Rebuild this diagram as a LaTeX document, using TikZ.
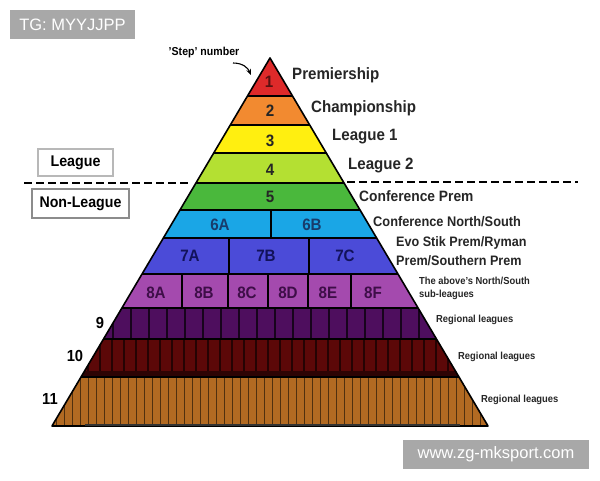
\documentclass[tikz,border=0pt]{standalone}
\usepackage{fontspec}
\setmainfont{Liberation Sans}
\usetikzlibrary{arrows.meta}
\newcommand{\nar}[1]{\scalebox{0.92}[1]{#1}}
\newcommand{\pyrpoly}[2]{({270-0.5924*(#1-58)},#1) -- ({270+0.5924*(#1-58)},#1) -- ({270+0.5924*(#2-58)},#2) -- ({270-0.5924*(#2-58)},#2) -- cycle}
\definecolor{cA}{HTML}{DE2A2A}
\definecolor{cB}{HTML}{F28A30}
\definecolor{cC}{HTML}{FFEF10}
\definecolor{cD}{HTML}{B4E032}
\definecolor{cE}{HTML}{4AB83C}
\definecolor{cF}{HTML}{1AA6E6}
\definecolor{cG}{HTML}{4B4BD8}
\definecolor{cH}{HTML}{A44AAE}
\definecolor{cI}{HTML}{4E0E5E}
\definecolor{cJ}{HTML}{5C0808}
\definecolor{cK}{HTML}{B26A22}
\definecolor{numtxt}{HTML}{262626}
\definecolor{numsix}{HTML}{183C6C}
\definecolor{numseven}{HTML}{12125A}
\definecolor{numeight}{HTML}{3E0E48}
\definecolor{wmgray}{HTML}{A8A8A8}
\begin{document}
\begin{tikzpicture}[x=1pt,y=-1pt,
  num/.style={font=\fontsize{16.5}{18}\selectfont\bfseries, text=numtxt, inner sep=0pt},
  side/.style={anchor=west, inner sep=0pt, text=black!85},
  bigl/.style={side, font=\fontsize{16.4}{19}\selectfont\bfseries},
  smll/.style={side, font=\fontsize{10.2}{14}\selectfont\bfseries},
  stepnum/.style={font=\fontsize{16}{18}\selectfont\bfseries, inner sep=0pt},
  divider/.style={line width=1.4pt, black},
  dashline/.style={line width=1.8pt, dash pattern=on 8pt off 4pt},
  wm/.style={fill=wmgray, text=white, font=\fontsize{16.5}{18}\selectfont, inner sep=0pt}
]
\useasboundingbox (0,0) rectangle (600,480);
\fill[white] (0,0) rectangle (600,480);

% bands
\fill[cA] \pyrpoly{58}{96};
\fill[cB] \pyrpoly{96}{125};
\fill[cC] \pyrpoly{125}{153};
\fill[cD] \pyrpoly{153}{183};
\fill[cE] \pyrpoly{183}{210};
\fill[cF] \pyrpoly{210}{238};
\fill[cG] \pyrpoly{238}{274};
\fill[cH] \pyrpoly{274}{308};
\fill[cI] \pyrpoly{308}{339};
\fill[cJ] \pyrpoly{339}{377};
\fill[cK] \pyrpoly{377}{426};

% stripes
\begin{scope}
  \clip \pyrpoly{308}{339};
  \foreach \x in {113,131,...,431} \draw[line width=1.4pt, black!70!cI] (\x,308) -- (\x,339);
\end{scope}
\begin{scope}
  \clip \pyrpoly{339}{377};
  \foreach \x in {88,100,...,460} \draw[line width=1.2pt, black!60!cJ] (\x,339) -- (\x,377);
  \fill[black!50!cJ] (60,371) rectangle (480,377);
\end{scope}
\begin{scope}
  \clip \pyrpoly{377}{426};
  \foreach \x in {56,64,...,490} \draw[line width=0.9pt, black!55!cK] (\x,377) -- (\x,426);
\end{scope}

% boundaries
\foreach \y in {96,125,153,183,210,238,274,308,339,377}
  \draw[divider] ({270-0.5924*(\y-58)},\y) -- ({270+0.5924*(\y-58)},\y);
\draw[line width=1.6pt, line join=round] \pyrpoly{58}{426};
\draw[line width=2.2pt, black!80] (85,425) -- (460,425);

% vertical dividers
\draw[divider] (271,210) -- (271,238);
\draw[divider] (229,238) -- (229,274);
\draw[divider] (309,238) -- (309,274);
\foreach \x in {182,228,268,308,351} \draw[divider] (\x,274) -- (\x,308);

% numbers in pyramid
\node[num, text=black!60!cA] (n1) at (269,82) {\nar{1}};
\node[num] (n2) at (270,111) {\nar{2}};
\node[num] (n3) at (270,141) {\nar{3}};
\node[num] (n4) at (270,170) {\nar{4}};
\node[num] (n5) at (270,197) {\nar{5}};
\node[num, text=numsix] (n6a) at (220,225) {\nar{6A}};
\node[num, text=numsix] (n6b) at (312,225) {\nar{6B}};
\node[num, text=numseven] (n7a) at (190,256) {\nar{7A}};
\node[num, text=numseven] (n7b) at (266,256) {\nar{7B}};
\node[num, text=numseven] (n7c) at (345,256) {\nar{7C}};
\node[num, text=numeight] (n8a) at (156,293) {\nar{8A}};
\node[num, text=numeight] (n8b) at (204,293) {\nar{8B}};
\node[num, text=numeight] (n8c) at (247,293) {\nar{8C}};
\node[num, text=numeight] (n8d) at (288,293) {\nar{8D}};
\node[num, text=numeight] (n8e) at (328,293) {\nar{8E}};
\node[num, text=numeight] (n8f) at (373,293) {\nar{8F}};

% step numbers on the left
\node[stepnum] (s9) at (100,323) {\nar{9}};
\node[stepnum] (s10) at (75,356) {\nar{10}};
\node[stepnum] (s11) at (50,399) {\nar{11}};

% right labels
\node[bigl] (l1) at (292,75) {\nar{Premiership}};
\node[bigl] (l2) at (311,108) {\nar{Championship}};
\node[bigl] (l3) at (332,137) {\nar{League 1}};
\node[bigl] (l4) at (348,166) {\nar{League 2}};
\node[side, font=\fontsize{15}{18}\selectfont\bfseries] (l5) at (359,196) {\nar{Conference Prem}};
\node[side, font=\fontsize{13.9}{17}\selectfont\bfseries] (l6) at (373,222) {\nar{Conference North/South}};
\node[side, font=\fontsize{13.7}{17}\selectfont\bfseries] (l7a) at (396,243) {\nar{Evo Stik Prem/Ryman}};
\node[side, font=\fontsize{13.7}{17}\selectfont\bfseries] (l7b) at (396,261) {\nar{Prem/Southern Prem}};
\node[smll] (l8a) at (419,281) {\nar{The above's North/South}};
\node[smll] (l8b) at (419,295) {\nar{sub-leagues}};
\node[smll] (l9) at (436,320) {\nar{Regional leagues}};
\node[smll] (l10) at (458,357) {\nar{Regional leagues}};
\node[smll] (l11) at (481,400) {\nar{Regional leagues}};

% step label and arrow
\node[font=\fontsize{11.5}{13}\selectfont\bfseries, inner sep=0pt] (steplbl) at (204,53) {\nar{'Step' number}};
\coordinate (arrend) at (251,75);
\draw[line width=1.1pt, -{Stealth[length=6pt,width=5pt]}] (233,63) .. controls (243,63) and (248,68) .. (arrend);

% league / non-league
\node[draw=black!28, line width=1.8pt, minimum width=75pt, minimum height=27pt, inner sep=0pt,
      font=\fontsize{15.5}{18}\selectfont\bfseries] (league) at (75.5,162.5) {\nar{League}};
\node[draw=black!45, line width=1.8pt, minimum width=97pt, minimum height=29pt, inner sep=0pt,
      font=\fontsize{15.4}{18}\selectfont\bfseries] (nonleague) at (80.5,203.5) {\nar{Non-League}};
\coordinate (dl1) at (24,183);
\coordinate (dl2) at (190,183);
\coordinate (dr1) at (347,182);
\coordinate (dr2) at (578,182);
\draw[dashline] (dl1) -- (dl2);
\draw[dashline] (dr1) -- (dr2);

% watermarks
\node[wm, minimum width=125pt, minimum height=29pt] (wm1) at (72.5,24.5) {TG: MYYJJPP};
\node[wm, minimum width=186pt, minimum height=29pt] (wm2) at (496,454.5) {www.zg-mksport.com};
\end{tikzpicture}
\end{document}
